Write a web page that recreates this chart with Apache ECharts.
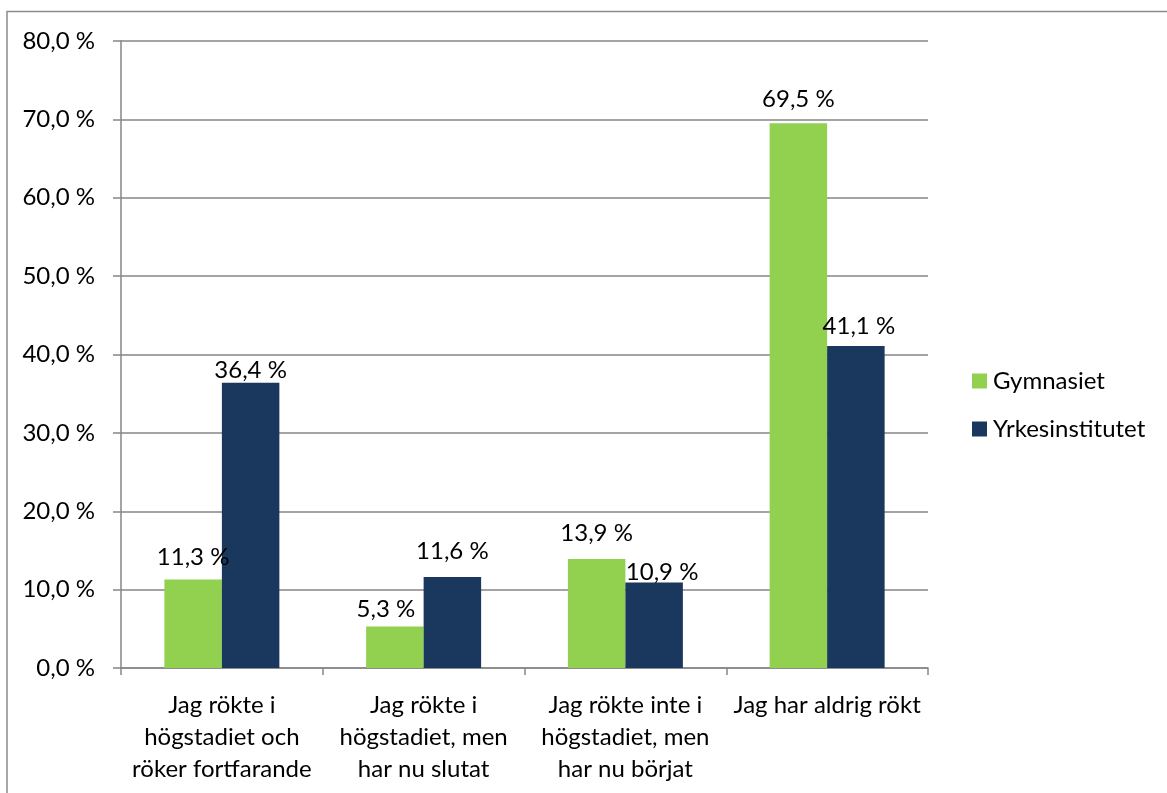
<!DOCTYPE html>
<html>
<head>
<meta charset="utf-8">
<script src="https://cdn.jsdelivr.net/npm/echarts@6/dist/echarts.min.js"></script>
<style>
  html, body { margin: 0; padding: 0; background: #fff; }
  #chart { width: 1167px; height: 793px; }
</style>
</head>
<body>
<div id="chart"></div>
<script>
// Rökvanor: andel per svarsalternativ, Gymnasiet vs Yrkesinstitutet
const categories = [
  'Jag rökte i\nhögstadiet och\nröker fortfarande',
  'Jag rökte i\nhögstadiet, men\nhar nu slutat',
  'Jag rökte inte i\nhögstadiet, men\nhar nu börjat',
  'Jag har aldrig rökt'
];
const seriesNames = ['Gymnasiet', 'Yrkesinstitutet'];
const gymnasiet = [11.3, 5.3, 13.9, 69.5];
const yrkesinstitutet = [36.4, 11.6, 10.9, 41.1];
const yTicks = [0, 10, 20, 30, 40, 50, 60, 70, 80];

const FONT = 'Lato, "Open Sans", sans-serif';
const FS = 24;
const fmt = v => v.toFixed(1).replace('.', ',') + ' %';

// per-label nudges so the value labels sit where they were placed by hand
const gymLabelPos = [
  { offset: [0, -10] }, { offset: [-9, -5] }, { offset: [0, -14] }, { offset: [0, -12] }
];
const yrkLabelPos = [
  { offset: [0, 0] }, { offset: [0, -14] }, { offset: [8, 2] }, { offset: [3, -8] }
];

function buildData(values, pos) {
  return values.map((v, i) => ({
    value: v,
    label: { offset: pos[i].offset }
  }));
}

const chart = echarts.init(document.getElementById('chart'), null, { renderer: 'canvas' });

const valueLabel = {
  show: true, position: 'top', distance: 0,
  fontFamily: FONT, fontSize: FS, color: '#000',
  formatter: p => fmt(p.value)
};

const option = {
  backgroundColor: '#ffffff',
  animation: false,
  textStyle: { fontFamily: FONT },
  graphic: [{
    type: 'rect',
    shape: { x: 7, y: 11.5, width: 1300, height: 900 },
    style: { fill: 'none', stroke: '#8a8a8a', lineWidth: 1.5 },
    silent: true
  }],
  grid: { left: 121, right: 239, top: 41, bottom: 125, containLabel: false },
  legend: {
    orient: 'vertical',
    left: 972,
    top: 369,
    padding: 0,
    itemWidth: 15,
    itemHeight: 15,
    itemGap: 24,
    icon: 'rect',
    data: seriesNames,
    textStyle: { fontFamily: FONT, fontSize: FS, lineHeight: 24, color: '#000', padding: [0, 0, 0, 1] }
  },
  xAxis: {
    type: 'category',
    data: categories,
    axisLine: { lineStyle: { color: '#868686', width: 1.5 } },
    axisTick: { show: true, length: 7, lineStyle: { color: '#868686', width: 1.5 } },
    axisLabel: {
      interval: 0,
      margin: 21,
      fontFamily: FONT,
      fontSize: FS,
      lineHeight: 32,
      color: '#000',
      align: 'center'
    }
  },
  yAxis: {
    type: 'value',
    min: yTicks[0],
    max: yTicks[yTicks.length - 1],
    interval: yTicks[1] - yTicks[0],
    axisLine: { show: true, lineStyle: { color: '#868686', width: 1.5 } },
    axisTick: { show: true, inside: false, length: 8, lineStyle: { color: '#868686', width: 1.5 } },
    splitLine: { show: true, lineStyle: { color: '#868686', width: 1.5 } },
    axisLabel: {
      margin: 26,
      fontFamily: FONT,
      fontSize: FS,
      color: '#000',
      formatter: v => fmt(v)
    }
  },
  series: [
    {
      name: seriesNames[0],
      type: 'bar',
      data: buildData(gymnasiet, gymLabelPos),
      barGap: '0%',
      barCategoryGap: '43%',
      itemStyle: { color: '#92D050' },
      label: valueLabel
    },
    {
      name: seriesNames[1],
      type: 'bar',
      data: buildData(yrkesinstitutet, yrkLabelPos),
      barGap: '0%',
      barCategoryGap: '43%',
      itemStyle: { color: '#1A375E' },
      label: valueLabel
    }
  ]
};

chart.setOption(option);
</script>
</body>
</html>
